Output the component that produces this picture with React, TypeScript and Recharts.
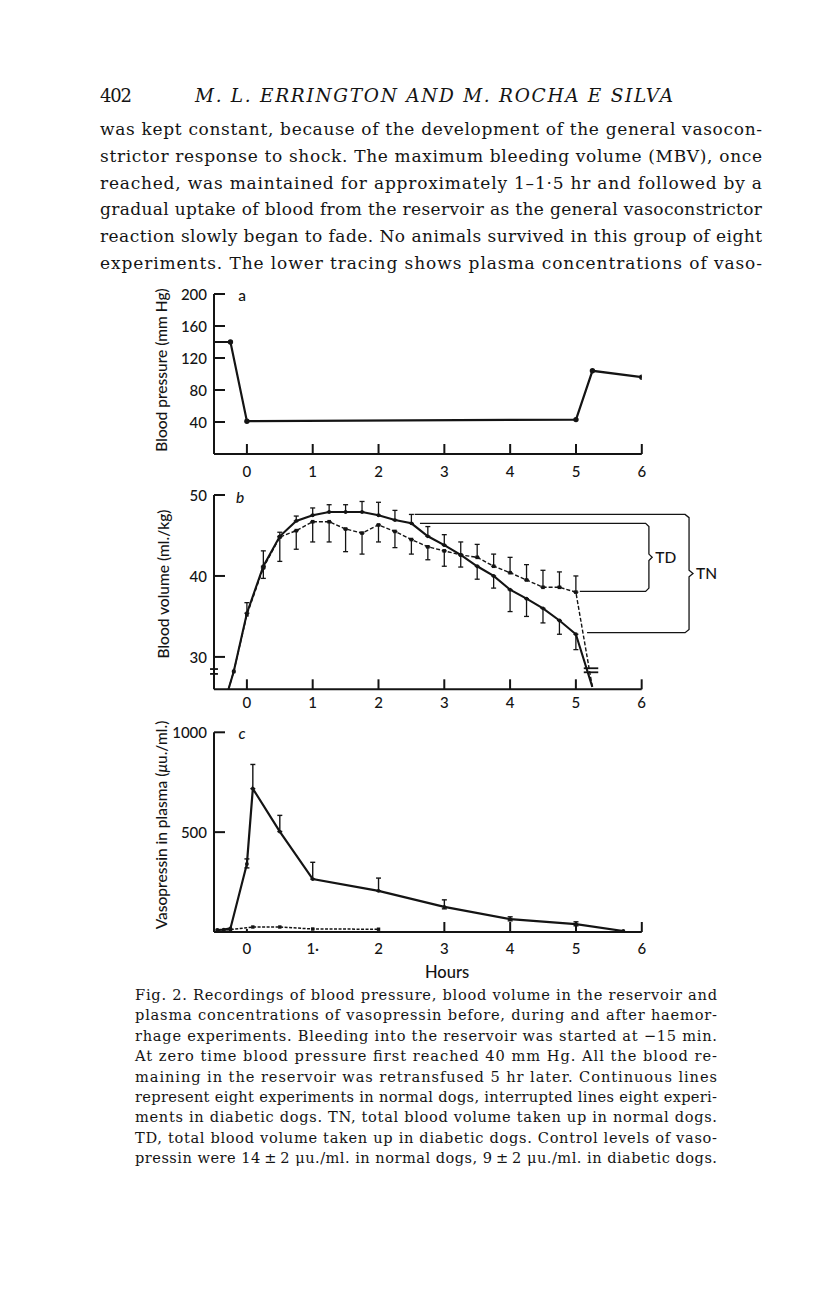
import React from 'react';
import { LineChart, Line, XAxis, YAxis, ErrorBar, ReferenceLine, ReferenceDot } from 'recharts';

const INK = '#141414';
const SANS = 'Lato, "Open Sans", sans-serif';
const SERIF = '"DejaVu Serif", serif';
const SANS_WEIGHT = 500;

// ---------- page text ----------
const pageNumber = '402';
const runningHead = 'M. L. ERRINGTON AND M. ROCHA E SILVA';
const bodyLines = [
  'was kept constant, because of the development of the general vasocon-',
  'strictor response to shock. The maximum bleeding volume (MBV), once',
  'reached, was maintained for approximately 1\u20131\u00b75 hr and followed by a',
  'gradual uptake of blood from the reservoir as the general vasoconstrictor',
  'reaction slowly began to fade. No animals survived in this group of eight',
  'experiments. The lower tracing shows plasma concentrations of vaso-',
];
const captionLines = [
  'Fig. 2. Recordings of blood pressure, blood volume in the reservoir and',
  'plasma concentrations of vasopressin before, during and after haemor-',
  'rhage experiments. Bleeding into the reservoir was started at \u221215 min.',
  'At zero time blood pressure first reached 40 mm Hg. All the blood re-',
  'maining in the reservoir was retransfused 5 hr later. Continuous lines',
  'represent eight experiments in normal dogs, interrupted lines eight experi-',
  'ments in diabetic dogs. TN, total blood volume taken up in normal dogs.',
  'TD, total blood volume taken up in diabetic dogs. Control levels of vaso-',
  'pressin were 14\u2009\u00b1\u20092 \u03bcu./ml. in normal dogs, 9\u2009\u00b1\u20092 \u03bcu./ml. in diabetic dogs.',
];

// ---------- shared axis ----------
const hourTicks = [0, 1, 2, 3, 4, 5, 6];

// ---------- panel a: blood pressure ----------
const bpTimes = [-0.5, -0.25, 0, 5, 5.25, 6];
const bpValues = [140, 140, 41, 43, 104, 96];
const bpTicks = [40, 80, 120, 160, 200];

// ---------- panel b: blood volume ----------
const volTimes = [-0.28, -0.2, 0, 0.25, 0.5, 0.75, 1, 1.25, 1.5, 1.75, 2, 2.25, 2.5, 2.75, 3, 3.25, 3.5, 3.75, 4, 4.25, 4.5, 4.75, 5, 5.25];
const normalVol = [26, 28.2, 35.4, 41.2, 44.9, 46.8, 47.5, 47.9, 47.9, 47.9, 47.5, 46.9, 46.5, 44.9, 43.8, 42.6, 41.2, 40.0, 38.3, 37.2, 36.0, 34.5, 32.8, 26.3];
const normalVolLow = [null, null, 0, 0, 0, 0, 0, 0, 0, 0, 0, 0, 0, 0, 0, 1.5, 1.6, 1.5, 2.7, 2.2, 1.8, 1.7, 1.9, null];
const normalVolHigh = [null, null, 1.3, 1.9, 0.5, 0.6, 0.9, 0.9, 0.9, 1.3, 1.6, 1.2, 1.1, 1.2, 1.3, 0, 0, 0, 0, 0, 0, 0, 0, null];
const diabeticVol = [26, 28.2, 35.2, 41.0, 44.8, 45.6, 46.7, 46.7, 45.8, 45.3, 46.3, 45.5, 44.5, 43.6, 43.1, 42.6, 42.3, 41.2, 40.4, 39.5, 38.6, 38.6, 38.0, 26.3];
const diabeticVolLow = [null, null, null, 1.3, 3.0, 2.3, 2.5, 2.5, 2.8, 2.6, 2.1, 2.0, 1.8, 1.6, 1.9, 0, 0, 0, 0, 0, 0, 0, 0, null];
const diabeticVolHigh = [null, null, null, 0, 0, 0, 0, 0, 0, 0, 0, 0, 0, 0, 0, 1.6, 1.6, 1.5, 1.9, 1.9, 2.1, 1.9, 2.0, null];
const volTicks = [30, 40, 50];
// bracket TN (total uptake, normal) and TD (diabetic): [hours, ml/kg]
const tnBracket = [[2.55, 47.6], [6.66, 47.6], [6.72, 47.2], [6.72, 40.7], [6.78, 40.3], [6.72, 39.9], [6.72, 33.4], [6.66, 33.0], [5.17, 33.0]];
const tdBracket = [[2.63, 46.5], [6.06, 46.5], [6.11, 46.1], [6.11, 42.7], [6.16, 42.3], [6.11, 41.9], [6.11, 38.5], [6.06, 38.1], [5.06, 38.1]];
const breakMarks = [[-0.56, -0.44, 27.9], [-0.56, -0.44, 28.5], [5.12, 5.34, 28.1], [5.12, 5.34, 28.6]];

// ---------- panel c: vasopressin ----------
const vpTimes = [-0.45, -0.35, -0.25, 0, 0.09, 0.5, 1, 2, 3, 4, 5, 5.72];
const vpNormal = [10, 12, 18, 341, 718, 503, 265, 206, 126, 64, 39, 5];
const vpNormalLow = [null, null, null, 20, 0, 0, 0, 0, 10, 8, 8, null];
const vpNormalHigh = [null, null, null, 25, 121, 81, 84, 64, 35, 12, 12, null];
const vpDiabTimes = [-0.45, -0.35, -0.25, 0.09, 0.5, 1, 2];
const vpDiabetic = [8, 9, 12, 25, 25, 15, 14];
const vpTicks = [500, 1000];
const vpTickLabels: Record<number, string> = { 0: '0', 1: '1\u00b7', 2: '2', 3: '3', 4: '4', 5: '5', 6: '6' };

const build = (ts: number[], vs: number[], lo?: (number | null)[], hi?: (number | null)[]) =>
  ts.map((t, i) => ({
    t,
    v: vs[i],
    e: lo && hi && lo[i] != null ? [lo[i] as number, hi[i] as number] : null,
  }));
const toPts = (arr: number[][]) => arr.map(([t, v]) => ({ t, v }));

const bpData = build(bpTimes, bpValues);
const volNormalData = build(volTimes, normalVol, normalVolLow, normalVolHigh);
const volDiabData = build(volTimes, diabeticVol, diabeticVolLow, diabeticVolHigh);
const vpNormalData = build(vpTimes, vpNormal, vpNormalLow, vpNormalHigh);
const vpDiabData = build(vpDiabTimes, vpDiabetic);

// ---------- helpers ----------
const makeXTick = (lens: Record<number, number>, dy: number, labels?: Record<number, string>) => (props: any) => {
  const { x, y, payload } = props;
  const v = payload.value;
  const len = lens[v] ?? 10;
  return (
    <g>
      {len > 0 && <line x1={x} x2={x} y1={y} y2={y - len} stroke={INK} strokeWidth={2} />}
      <text x={x} y={y + dy} textAnchor="middle" dominantBaseline="central" fontFamily={SANS} fontWeight={SANS_WEIGHT} fontSize={15} fill={INK}>
        {labels ? labels[v] : String(v)}
      </text>
    </g>
  );
};
const makeYTick = (len: number) => (props: any) => {
  const { x, y, payload } = props;
  return (
    <g>
      <line x1={x} x2={x + len} y1={y} y2={y} stroke={INK} strokeWidth={2} />
      <text x={x - 7} y={y} textAnchor="end" dominantBaseline="central" fontFamily={SANS} fontWeight={SANS_WEIGHT} fontSize={15} fill={INK}>
        {payload.value}
      </text>
    </g>
  );
};
const circleDot = (r: number, skip: number[] = []) => (p: any) =>
  skip.includes(p.index) || p.cx == null ? <g key={`n${p.index}`} /> : <circle key={`c${p.index}`} cx={p.cx} cy={p.cy} r={r} fill={INK} />;
const squareDot = (s: number, skip: number[] = []) => (p: any) =>
  skip.includes(p.index) || p.cx == null ? <g key={`n${p.index}`} /> : <rect key={`s${p.index}`} x={p.cx - s / 2} y={p.cy - s / 2} width={s} height={s} fill={INK} />;

const axisStroke = { stroke: INK, strokeWidth: 2 };

function PanelA() {
  return (
    <LineChart width={620} height={240} margin={{ top: 34, right: 78.2, bottom: 45, left: 113 }}>
      <XAxis type="number" dataKey="t" domain={[-0.5, 6]} ticks={hourTicks} interval={0} allowDataOverflow height={1}
        tickSize={0} tickMargin={0} tickLine={false} axisLine={axisStroke} tick={makeXTick({}, 17)} />
      <YAxis type="number" domain={[0, 200]} ticks={bpTicks} interval={0} allowDataOverflow width={1}
        tickSize={0} tickMargin={0} tickLine={false} axisLine={axisStroke} tick={makeYTick(11)} />
      <Line data={bpData} dataKey="v" stroke={INK} strokeWidth={2.2} dot={circleDot(2.7, [0])} isAnimationActive={false} />
    </LineChart>
  );
}

function PanelB() {
  return (
    <LineChart width={640} height={260} margin={{ top: 35, right: 42.4, bottom: 29.7, left: 113 }}>
      <XAxis type="number" dataKey="t" domain={[-0.5, 6.85]} ticks={hourTicks} interval={0} allowDataOverflow height={1}
        tickSize={0} tickMargin={0} tickLine={false} axisLine={false} tick={makeXTick({}, 13)} />
      <YAxis type="number" domain={[26, 50]} ticks={volTicks} interval={0} allowDataOverflow width={1}
        tickSize={0} tickMargin={0} tickLine={false} axisLine={axisStroke} tick={makeYTick(11)} />
      <ReferenceLine segment={[{ x: -0.5, y: 26 }, { x: 6, y: 26 }]} stroke={INK} strokeWidth={2} ifOverflow="visible" />
      {breakMarks.map(([x1, x2, y], i) => (
        <ReferenceLine key={`bm${i}`} segment={[{ x: x1, y }, { x: x2, y }]} stroke={INK} strokeWidth={1.8} ifOverflow="visible" />
      ))}
      <Line data={toPts(tnBracket)} dataKey="v" stroke={INK} strokeWidth={1.3} dot={false} isAnimationActive={false} />
      <Line data={toPts(tdBracket)} dataKey="v" stroke={INK} strokeWidth={1.3} dot={false} isAnimationActive={false} />
      <Line data={volDiabData} dataKey="v" stroke={INK} strokeWidth={1.4} strokeDasharray="4 2" dot={squareDot(3.6, [0, 23])} isAnimationActive={false}>
        <ErrorBar dataKey="e" width={2.5} strokeWidth={1.3} stroke={INK} direction="y" />
      </Line>
      <Line data={volNormalData} dataKey="v" stroke={INK} strokeWidth={2.1} dot={circleDot(1.9, [0, 23])} isAnimationActive={false}>
        <ErrorBar dataKey="e" width={2.5} strokeWidth={1.3} stroke={INK} direction="y" />
      </Line>
      <ReferenceDot x={6.16} y={42.3} r={0} ifOverflow="visible"
        label={{ value: 'TD', position: 'right', offset: 3, fill: INK, fontSize: 15.5, fontFamily: SANS, fontWeight: SANS_WEIGHT }} />
      <ReferenceDot x={6.78} y={40.3} r={0} ifOverflow="visible"
        label={{ value: 'TN', position: 'right', offset: 3, fill: INK, fontSize: 15.5, fontFamily: SANS, fontWeight: SANS_WEIGHT }} />
    </LineChart>
  );
}

function PanelC() {
  return (
    <LineChart width={620} height={290} margin={{ top: 32.3, right: 78.2, bottom: 57, left: 113 }}>
      <XAxis type="number" dataKey="t" domain={[-0.5, 6]} ticks={hourTicks} interval={0} allowDataOverflow height={1}
        tickSize={0} tickMargin={0} tickLine={false} axisLine={axisStroke}
        tick={makeXTick({ 0: 3, 1: 0, 2: 0 }, 16, vpTickLabels)} />
      <YAxis type="number" domain={[0, 1000]} ticks={vpTicks} interval={0} allowDataOverflow width={1}
        tickSize={0} tickMargin={0} tickLine={false} axisLine={axisStroke} tick={makeYTick(11)} />
      <Line data={vpDiabData} dataKey="v" stroke={INK} strokeWidth={1.5} strokeDasharray="3 1.5" dot={squareDot(3.4)} isAnimationActive={false} />
      <Line data={vpNormalData} dataKey="v" stroke={INK} strokeWidth={2.2} dot={circleDot(1.9)} isAnimationActive={false}>
        <ErrorBar dataKey="e" width={2.5} strokeWidth={1.4} stroke={INK} direction="y" />
      </Line>
    </LineChart>
  );
}

export default function App() {
  const abs = (left: number, top: number): React.CSSProperties => ({ position: 'absolute', left, top });
  return (
    <div style={{ position: 'absolute', left: 0, top: 0, width: 816, height: 1296, background: '#fff', overflow: 'hidden' }}>
      <div style={abs(100, 260)}><PanelA /></div>
      <div style={abs(100, 460)}><PanelB /></div>
      <div style={abs(100, 700)}><PanelC /></div>
      <svg width={816} height={1296} style={{ position: 'absolute', left: 0, top: 0, pointerEvents: 'none' }}>
        <g fill={INK} fontFamily={SERIF}>
          <text x={100} y={102} fontSize={18} textLength={32} lengthAdjust="spacing">{pageNumber}</text>
          <text x={195} y={102} fontSize={18.5} fontStyle="italic" textLength={478} lengthAdjust="spacing">{runningHead}</text>
          {bodyLines.map((s, i) => (
            <text key={`b${i}`} x={100} y={135 + i * 26.8} fontSize={17} textLength={662} lengthAdjust="spacing">{s}</text>
          ))}
          {captionLines.map((s, i) => (
            <text key={`c${i}`} x={135} y={1000 + i * 20.4} fontSize={14.6} textLength={582} lengthAdjust="spacing">{s}</text>
          ))}
        </g>
        <g fill={INK} fontFamily={SANS} fontWeight={SANS_WEIGHT} fontSize={15.5}>
          <text x={161} y={370} textAnchor="middle" dominantBaseline="central" transform="rotate(-90 161 370)">Blood pressure (mm Hg)</text>
          <text x={163} y={584} textAnchor="middle" dominantBaseline="central" transform="rotate(-90 163 584)">Blood volume (ml./kg)</text>
          <text x={161} y={825} textAnchor="middle" dominantBaseline="central" transform="rotate(-90 161 825)">
            Vasopressin in plasma (<tspan fontStyle="italic">{'\u03bc'}</tspan>u./ml.)
          </text>
          <text x={242} y={295} textAnchor="middle" dominantBaseline="central">a</text>
          <text x={240} y={497} textAnchor="middle" dominantBaseline="central" fontStyle="italic">b</text>
          <text x={242} y={733} textAnchor="middle" dominantBaseline="central" fontStyle="italic">c</text>
          <text x={447} y={972} textAnchor="middle" dominantBaseline="central" fontSize={16.5}>Hours</text>
        </g>
      </svg>
    </div>
  );
}
